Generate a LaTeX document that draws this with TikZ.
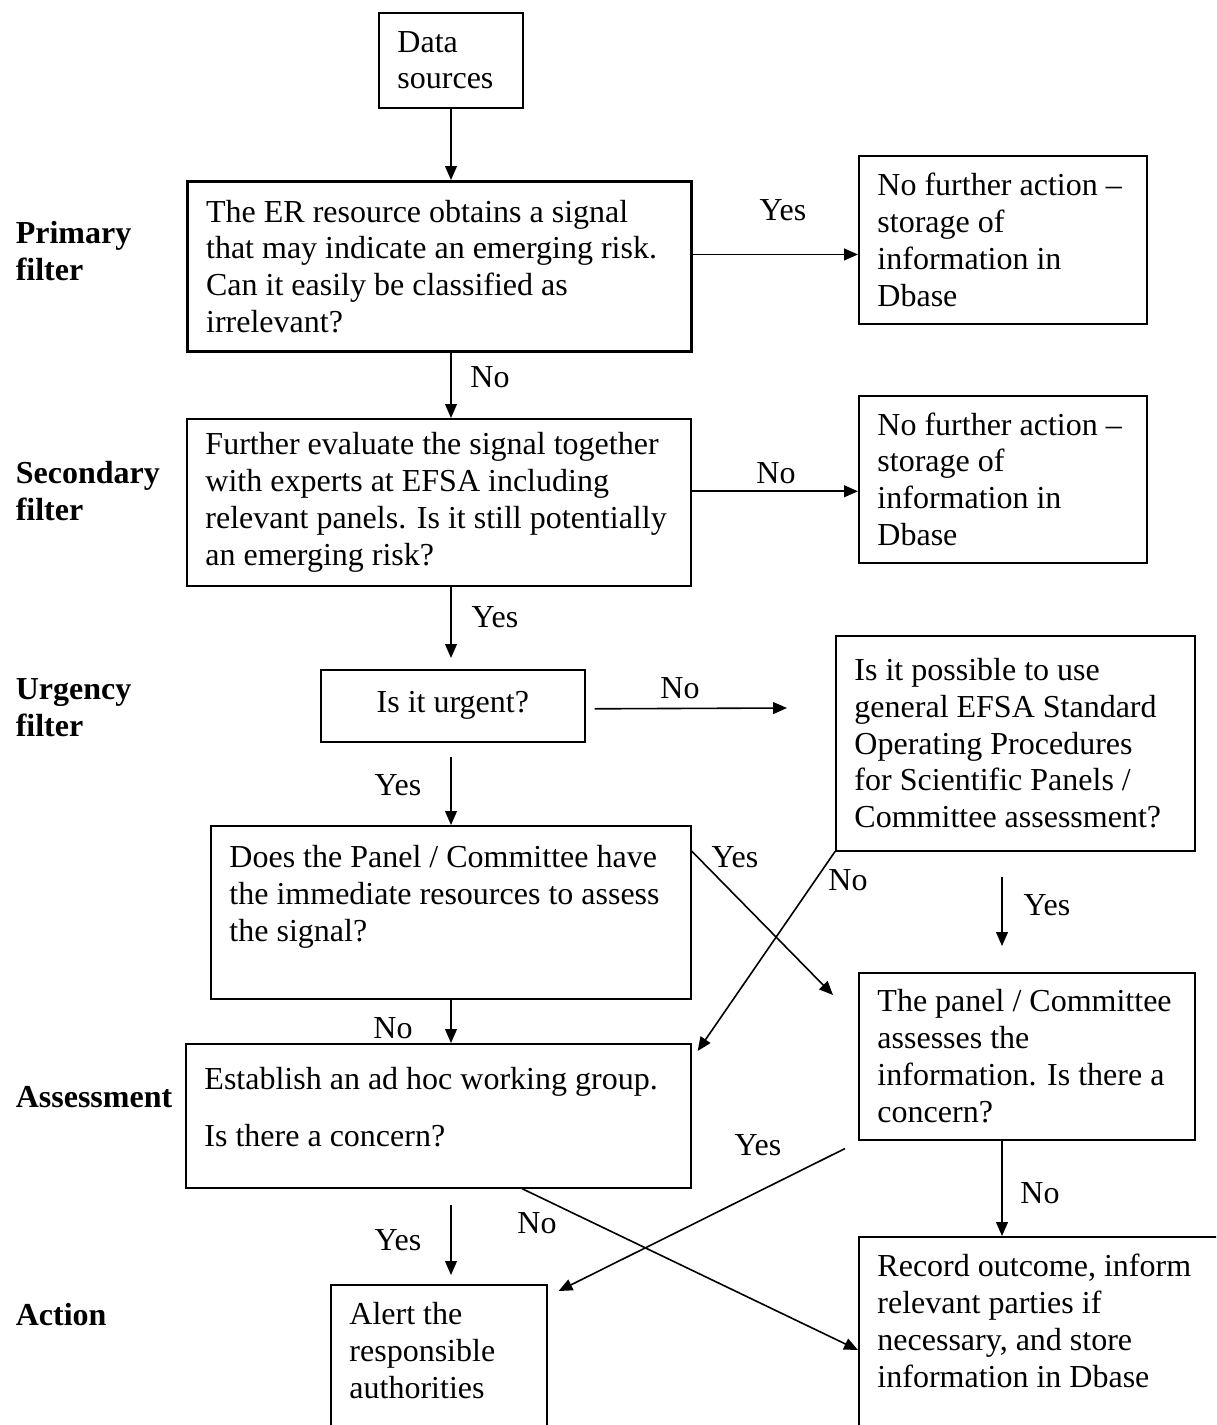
\documentclass[tikz,border=0pt]{standalone}
\usepackage{fontspec}
\setmainfont{Liberation Serif}
\usetikzlibrary{arrows.meta,calc}

\begin{document}
\begin{tikzpicture}[x=0.375pt, y=-0.375pt, line width=0.6pt,
 >={Triangle[length=5.2pt,width=4.4pt]},
 every node/.style={font=\fontsize{12}{13.8}\selectfont},
 box/.style={draw, anchor=north west, align=flush left, inner xsep=7pt, inner ysep=0pt},
 openbox/.style={box, inner ysep=6.6pt, text depth=80pt},
 side/.style={anchor=west, align=left, inner sep=0pt, font=\fontsize{12}{13.8}\selectfont\bfseries},
 ans/.style={inner sep=0pt}]
\useasboundingbox (0,0) rectangle (1216,1425);
\clip (0,0) rectangle (1216,1425);
\coordinate (lx) at (451,0);
\coordinate (rx) at (1002,0);

% stages
\node[side] (sPrimary) at (15,251) {Primary\\filter};
\node[side] (sSecondary) at (15,491) {Secondary\\filter};
\node[side] (sUrgency) at (15,708) {Urgency\\filter};
\node[side] (sAssess) at (15,1097) {Assessment};
\node[side] (sAction) at (15,1315) {Action};

% boxes
\node[box, text width=40pt, minimum height=35.6pt] (data) at (378,12) {Data\\sources};
\node[box, line width=1.1pt, text width=175pt, minimum height=63.75pt] (primary) at (186,180) {The ER resource obtains a signal\\that may indicate an emerging risk.\\Can it easily be classified as\\irrelevant?};
\node[box, text width=94pt, minimum height=63pt] (store1) at (858,155) {No further action –\\storage of\\information in\\Dbase};
\node[box, text width=175pt, minimum height=62.6pt] (secondary) at (186,418) {Further evaluate the signal together\\with experts at EFSA including\\relevant panels. Is it still potentially\\an emerging risk?};
\node[box, text width=94pt, minimum height=62.6pt] (store2) at (858,395) {No further action –\\storage of\\information in\\Dbase};
\node[box, align=flush center, text width=85pt, minimum height=27pt] (urgent) at (320,669) {Is it urgent?};
\node[box, text width=120.6pt, minimum height=80.6pt] (possible) at (835,635) {Is it possible to use\\general EFSA Standard\\Operating Procedures\\for Scientific Panels /\\Committee assessment?};
\node[box, text width=166pt, minimum height=64.9pt, text depth=42pt] (panel) at (210,825) {Does the Panel / Committee have\\the immediate resources to assess\\the signal?};
\node[box, text width=112pt, minimum height=62.6pt] (assess) at (858,972) {The panel / Committee\\assesses the\\information. Is there a\\concern?};
\node[box, text width=175.4pt, minimum height=54pt, text depth=27.8pt] (adhoc) at (185,1043) {Establish an ad hoc working group.\\[7.6pt]Is there a concern?};
\node[openbox, text width=67pt] (alert) at (330,1284) {Alert the\\responsible\\authorities};
\node[openbox, text width=126pt] (record) at (858,1236) {Record outcome, inform\\relevant parties if\\necessary, and store\\information in Dbase};

% answers
\node[ans] (yes1) at (783,210) {Yes};
\node[ans] (no1) at (490,377) {No};
\node[ans] (no2) at (776,473) {No};
\node[ans] (yes2) at (495,617) {Yes};
\node[ans] (no3) at (680,688) {No};
\node[ans] (yes3) at (398,785) {Yes};
\node[ans] (yes4) at (735,857) {Yes};
\node[ans] (no4) at (848,880) {No};
\node[ans] (yes5) at (1047,905) {Yes};
\node[ans] (no5) at (393,1028) {No};
\node[ans] (yes6) at (758,1145) {Yes};
\node[ans] (no6) at (1040,1193) {No};
\node[ans] (no7) at (537,1223) {No};
\node[ans] (yes7) at (398,1240) {Yes};

% connectors
\coordinate (noend) at (787,708);
\coordinate (yesend) at (833,995);
\draw[->] (lx |- data.south) -- (lx |- primary.north);
\draw[->] ($(primary.east)+(0,-12)$) -- ($(primary.east -| store1.west)+(0,-12)$);
\draw[->] (lx |- primary.south) -- (lx |- secondary.north);
\draw[->] ($(secondary.east)+(0,-11)$) -- ($(secondary.east -| store2.west)+(0,-11)$);
\draw[->] (lx |- secondary.south) -- ($(lx |- urgent.north)+(0,-11)$);
\draw[->] ($(urgent.east)+(9,3)$) -- (noend);
\draw[->] ($(lx |- urgent.south)+(0,14)$) -- (lx |- panel.north);
\draw[->] ($(panel.north east)+(0,26)$) -- (yesend);
\draw[->] (possible.south west) -- ($(adhoc.north east)+(6,8)$);
\draw[->] ($(rx |- possible.south)+(0,25)$) -- ($(rx |- assess.north)+(0,-26)$);
\draw[->] (lx |- panel.south) -- (lx |- adhoc.north);
\draw[->] ($(assess.south west)+(-13,8)$) -- ($(alert.north east)+(11,7)$);
\draw[->] ($(adhoc.south west)+(337,0)$) -- ($(record.north west)+(0,114)$);
\draw[->] ($(lx |- adhoc.south)+(0,16)$) -- ($(lx |- alert.north)+(0,-9)$);
\draw[->] (rx |- assess.south) -- (rx |- record.north);
\end{tikzpicture}
\end{document}
